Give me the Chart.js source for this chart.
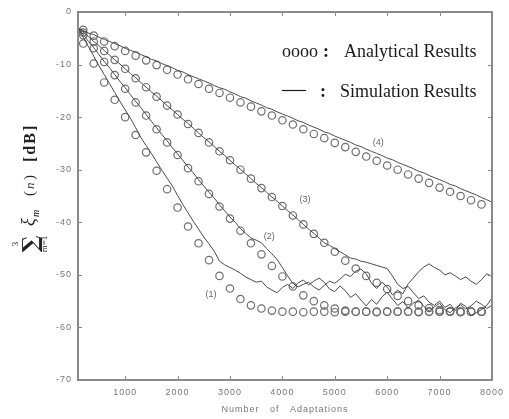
<!DOCTYPE html>
<html><head><meta charset="utf-8">
<script src="https://cdn.jsdelivr.net/npm/chart.js@4/dist/chart.umd.min.js"></script>
<style>html,body{margin:0;padding:0;background:#fff;}canvas{display:block;}</style>
</head><body>
<canvas id="c" width="509" height="419"></canvas>
<script>
// ---- data ----
const lineN = [100,200,300,400,500,600,700,800,900,1000,1100,1200,1300,1400,1500,1600,1700,1800,1900,2000,
2100,2200,2300,2400,2500,2600,2700,2800,2900,3000,3100,3200,3300,3400,3500,3600,3700,3800,3900,4000,
4100,4200,4300,4400,4500,4600,4700,4800,4900,5000,5100,5200,5300,5400,5500,5600,5700,5800,5900,6000,
6100,6200,6300,6400,6500,6600,6700,6800,6900,7000,7100,7200,7300,7400,7500,7600,7700,7800,7900,8000];

const sim1 = [-3.0,-4.8,-6.6,-8.4,-10.2,-11.9,-13.6,-15.3,-17.0,-18.6,-20.2,-22.0,-23.9,-25.4,-26.9,-28.5,-30.1,-31.6,-33.1,-34.9,
-36.6,-38.2,-39.8,-41.3,-42.8,-44.1,-45.5,-47.4,-48.1,-48.6,-49.1,-49.7,-50.4,-50.9,-51.4,-51.2,-52.3,-52.9,-53.4,-52.4,
-51.8,-52.6,-51.5,-51.0,-51.9,-51.2,-50.6,-51.4,-52.7,-53.2,-52.1,-53.0,-54.3,-53.6,-54.8,-55.9,-54.7,-55.6,-54.2,-53.3,
-54.6,-55.8,-55.1,-56.3,-55.4,-54.8,-56.0,-56.9,-56.1,-55.4,-56.6,-57.2,-56.3,-55.7,-56.5,-55.9,-55.0,-55.6,-56.4,-55.8];

const sim2 = [-3.0,-4.3,-5.6,-6.8,-8.1,-9.4,-10.6,-11.9,-13.2,-14.4,-15.7,-17.0,-18.2,-19.5,-20.8,-22.0,-23.3,-24.5,-25.8,-27.0,
-28.2,-29.5,-30.6,-31.9,-33.1,-34.3,-35.4,-36.7,-37.8,-39.0,-40.0,-41.2,-42.1,-43.0,-43.4,-43.9,-45.0,-46.0,-47.1,-48.6,
-50.2,-51.6,-52.3,-51.8,-51.4,-52.3,-52.9,-52.0,-51.2,-51.6,-50.8,-49.9,-50.3,-49.3,-48.9,-49.8,-51.6,-52.6,-51.4,-52.3,
-53.8,-52.9,-53.6,-51.7,-50.6,-49.4,-48.5,-47.9,-48.6,-49.1,-50.0,-49.6,-50.2,-50.9,-50.4,-51.2,-51.8,-50.9,-49.8,-50.3];

const sim3 = [-3.0,-3.8,-4.7,-5.6,-6.4,-7.3,-8.2,-9.1,-9.9,-10.8,-11.7,-12.5,-13.4,-14.3,-15.2,-16.0,-16.9,-17.8,-18.6,-19.5,
-20.4,-21.2,-22.1,-23.0,-23.9,-24.7,-25.6,-26.5,-27.3,-28.2,-29.1,-29.9,-30.8,-31.7,-32.6,-33.4,-34.3,-35.2,-36.0,-36.9,
-37.8,-38.6,-39.5,-40.4,-41.3,-42.1,-43.0,-43.9,-44.4,-45.0,-45.6,-46.2,-46.8,-47.0,-47.4,-47.6,-47.9,-48.2,-48.5,-48.8,
-50.2,-51.8,-52.6,-52.2,-53.4,-54.5,-54.0,-55.2,-55.8,-55.0,-56.2,-55.6,-56.8,-55.4,-56.0,-57.8,-57.2,-56.6,-55.8,-54.4];

const sim4 = [-3.0,-3.5,-4.0,-4.3,-4.8,-5.2,-5.6,-6.0,-6.4,-6.9,-7.3,-7.6,-8.1,-8.5,-9.0,-9.3,-9.8,-10.2,-10.6,-11.1,
-11.4,-11.9,-12.3,-12.7,-13.1,-13.5,-14.0,-14.4,-14.7,-15.2,-15.6,-16.1,-16.4,-16.9,-17.3,-17.7,-18.2,-18.5,-19.0,-19.4,
-19.8,-20.2,-20.7,-21.0,-21.5,-21.9,-22.3,-22.8,-23.1,-23.6,-24.0,-24.4,-24.8,-25.3,-25.6,-26.1,-26.5,-26.9,-27.3,-27.8,
-28.1,-28.6,-29.0,-29.4,-29.8,-30.3,-30.6,-31.1,-31.5,-31.9,-32.3,-32.8,-33.1,-33.6,-34.0,-34.4,-34.8,-35.3,-35.7,-36.2];

const circleN = [200,400,600,800,1000,1200,1400,1600,1800,2000,2200,2400,2600,2800,3000,3200,3400,3600,3800,4000,
4200,4400,4600,4800,5000,5200,5400,5600,5800,6000,6200,6400,6600,6800,7000,7200,7400,7600,7800];

const ana1 = [-6.0,-9.8,-13.4,-16.7,-20.0,-23.4,-26.7,-30.2,-33.7,-37.2,-40.8,-44.0,-47.2,-50.2,-52.6,-54.6,-55.8,-56.4,-56.8,-57.0,
-57.0,-57.1,-57.0,-57.0,-57.1,-57.0,-57.0,-57.0,-57.1,-57.0,-57.0,-57.0,-57.1,-57.0,-57.0,-57.0,-57.1,-57.0,-57.0];
const ana2 = [-4.4,-6.9,-9.5,-12.0,-14.6,-17.2,-19.7,-22.3,-24.8,-27.2,-29.7,-32.2,-34.6,-37.0,-39.3,-41.6,-44.0,-46.1,-48.3,-50.3,
-52.2,-53.9,-55.0,-55.8,-56.4,-56.8,-57.0,-57.0,-57.0,-57.0,-57.0,-57.0,-57.0,-57.0,-57.0,-57.0,-57.0,-57.0,-57.0];
const ana3 = [-3.9,-5.6,-7.4,-9.1,-10.8,-12.6,-14.3,-16.1,-17.8,-19.5,-21.3,-23.0,-24.8,-26.5,-28.2,-30.0,-31.7,-33.5,-35.2,-36.9,
-38.7,-40.4,-42.2,-43.9,-45.6,-47.3,-48.8,-50.2,-51.5,-52.7,-54.0,-55.0,-55.8,-56.3,-56.7,-56.9,-57.0,-57.0,-57.0];
const ana4 = [-3.4,-4.5,-5.6,-6.5,-7.4,-8.3,-9.2,-10.1,-11.0,-11.9,-12.8,-13.7,-14.6,-15.4,-16.3,-17.2,-18.0,-18.9,-19.7,-20.6,
-21.4,-22.3,-23.2,-24.0,-24.9,-25.7,-26.6,-27.5,-28.3,-29.2,-30.0,-30.9,-31.7,-32.5,-33.4,-34.2,-35.0,-35.8,-36.6];

const xTicks = [1000,2000,3000,4000,5000,6000,7000,8000];
const yTicks = [0,-10,-20,-30,-40,-50,-60,-70];
const curveNames = ['(1)','(2)','(3)','(4)'];
const curveLabelN = [2640,3750,4430,5830];
const curveLabelV = [-53.8,-42.8,-35.7,-24.9];
const legendTexts = ['oooo', 'Analytical Results', 'Simulation Results'];
const xTitle = 'Number   of   Adaptations';

// ---- build ----
const sims = [sim1, sim2, sim3, sim4];
const anas = [ana1, ana2, ana3, ana4];
const datasets = [];
sims.forEach((s, i) => {
  datasets.push({
    label: 'Simulation ' + curveNames[i],
    data: lineN.map((n, j) => ({x: n, y: s[j]})),
    borderColor: '#4a4a4a', borderWidth: 1, pointRadius: 0, tension: 0, fill: false
  });
});
anas.forEach((a, i) => {
  datasets.push({
    label: 'Analytical ' + curveNames[i],
    data: circleN.map((n, j) => ({x: n, y: a[j]})),
    showLine: false, pointStyle: 'circle', pointRadius: 3.7,
    pointBorderColor: '#6e6e6e', pointBackgroundColor: 'rgba(255,255,255,0)', pointBorderWidth: 1.2
  });
});

const decor = {
  id: 'decor',
  beforeDraw(chart) { chart.ctx.letterSpacing = '1px'; },
  beforeDatasetsDraw(chart) { chart.ctx.letterSpacing = '0px'; },
  afterDraw(chart) {
    const ctx = chart.ctx, a = chart.chartArea, xs = chart.scales.x, ys = chart.scales.y;
    ctx.save();
    ctx.letterSpacing = '0px';
    // frame
    ctx.strokeStyle = '#8a8a8a'; ctx.lineWidth = 2;
    ctx.strokeRect(a.left, a.top, a.right - a.left, a.bottom - a.top);
    // inward ticks
    ctx.lineWidth = 1; ctx.strokeStyle = '#8a8a8a';
    ctx.beginPath();
    xTicks.forEach(v => { const px = Math.round(xs.getPixelForValue(v)) + 0.5;
      ctx.moveTo(px, a.bottom); ctx.lineTo(px, a.bottom - 4);
      ctx.moveTo(px, a.top); ctx.lineTo(px, a.top + 4); });
    yTicks.forEach(v => { const py = Math.round(ys.getPixelForValue(v)) + 0.5;
      ctx.moveTo(a.left, py); ctx.lineTo(a.left + 4, py);
      ctx.moveTo(a.right, py); ctx.lineTo(a.right - 4, py); });
    ctx.stroke();
    // curve labels
    ctx.fillStyle = '#666'; ctx.font = '9px "Liberation Sans"'; ctx.textAlign = 'center'; ctx.textBaseline = 'middle';
    curveNames.forEach((t, i) => ctx.fillText(t, xs.getPixelForValue(curveLabelN[i]), ys.getPixelForValue(curveLabelV[i])));
    // legend text
    ctx.fillStyle = '#1a1a1a'; ctx.textAlign = 'left'; ctx.textBaseline = 'alphabetic';
    ctx.font = '18px "Liberation Serif"';
    ctx.fillText(legendTexts[0], 282, 57);
    ctx.fillText(legendTexts[1], 344, 57);
    ctx.fillText(legendTexts[2], 340, 97);
    ctx.font = 'bold 18px "Liberation Serif"';
    ctx.fillText(':', 323, 57);
    ctx.fillText(':', 320, 97);
    ctx.strokeStyle = '#1a1a1a'; ctx.lineWidth = 1.2;
    ctx.beginPath(); ctx.moveTo(282, 90.5); ctx.lineTo(306, 90.5); ctx.stroke();
    // y axis title (rotated math expression)
    ctx.translate(29, 192); ctx.rotate(-Math.PI / 2);
    ctx.fillStyle = '#222';
    ctx.textAlign = 'center';
    ctx.font = 'bold 22px "DejaVu Serif"';
    ctx.fillText('\u2211', -52, 9);
    ctx.font = '9px "Liberation Serif"';
    ctx.fillText('3', -52, -11);
    ctx.fillText('m=1', -52, 18);
    ctx.textAlign = 'left';
    ctx.font = 'italic 18px "Liberation Serif"';
    ctx.fillText('\u03BE', -34, 5);
    ctx.font = 'italic 10px "Liberation Serif"';
    ctx.fillText('m', -25, 10);
    ctx.font = '15px "Liberation Serif"';
    ctx.fillText('(', -4, 5);
    ctx.font = 'italic 13px "Liberation Serif"';
    ctx.fillText('n', 3, 5);
    ctx.font = '15px "Liberation Serif"';
    ctx.fillText(')', 12, 5);
    ctx.font = 'bold 16px "Liberation Serif"';
    ctx.letterSpacing = '2px';
    ctx.fillText('[dB]', 30, 6);
    ctx.restore();
  }
};

new Chart(document.getElementById('c'), {
  type: 'line',
  data: { datasets },
  options: {
    responsive: false, animation: false, devicePixelRatio: 1,
    layout: { padding: { top: 12, right: 12, left: 0, bottom: 0 } },
    plugins: { legend: { display: false }, tooltip: { enabled: false } },
    scales: {
      x: {
        type: 'linear', min: 100, max: 8000,
        afterBuildTicks: s => { s.ticks = xTicks.map(v => ({ value: v })); },
        afterFit: s => { s.height = 39; },
        grid: { display: false, drawTicks: false }, border: { display: false },
        ticks: { color: '#777', font: { family: 'Liberation Sans', size: 9 }, padding: 7, maxRotation: 0, autoSkip: false,
                 callback: v => String(v) },
        title: { display: true, text: xTitle, color: '#777', font: { family: 'Liberation Sans', size: 9 }, padding: { top: 0, bottom: 4 } }
      },
      y: {
        type: 'linear', min: -70, max: 0,
        afterBuildTicks: s => { s.ticks = yTicks.map(v => ({ value: v })); },
        afterFit: s => { s.width = 78; },
        grid: { display: false, drawTicks: false }, border: { display: false },
        ticks: { color: '#777', font: { family: 'Liberation Sans', size: 9 }, padding: 6, autoSkip: false,
                 callback: v => String(v) }
      }
    }
  },
  plugins: [decor]
});
</script>
</body></html>
